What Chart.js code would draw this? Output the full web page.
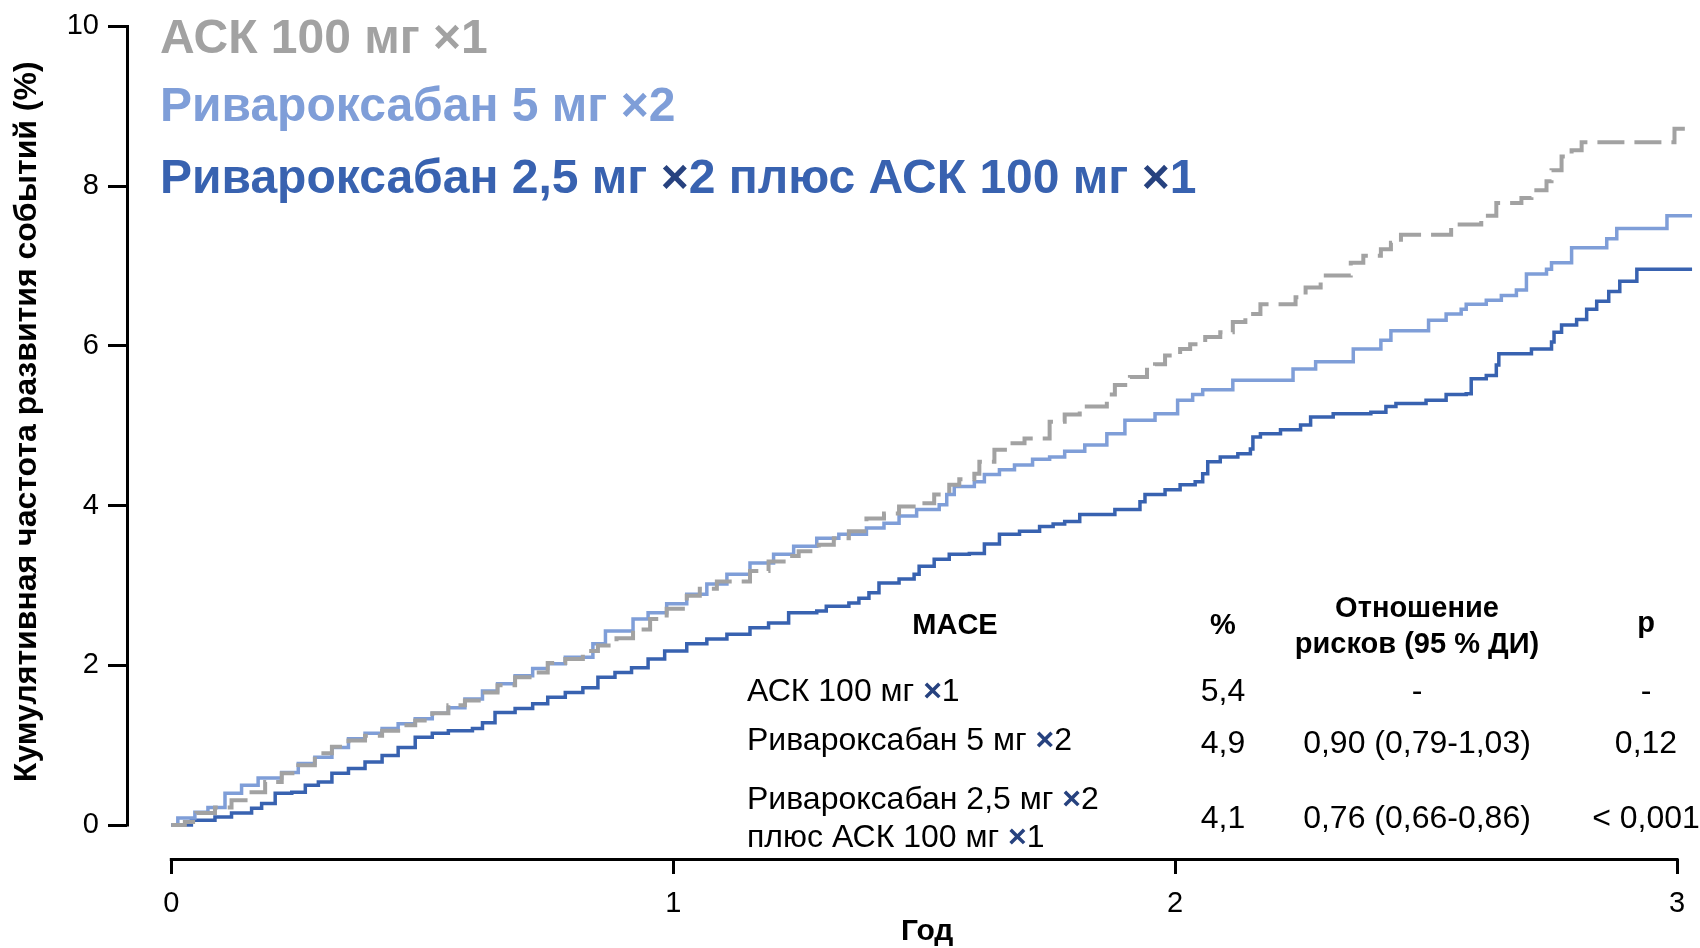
<!DOCTYPE html>
<html lang="ru">
<head>
<meta charset="utf-8">
<title>MACE — кумулятивная частота</title>
<script src="https://cdn.jsdelivr.net/npm/chart.js@4.4.1/dist/chart.umd.min.js"></script>
<style>
  html, body { margin: 0; padding: 0; background: #fff; }
  #wrap { position: relative; width: 1700px; height: 948px; }
</style>
</head>
<body>
<div id="wrap"><canvas id="chart" width="1700" height="948"></canvas></div>
<script>
// ---- data ----
const yearTicks = [0, 1, 2, 3];
const pctTicks = [0, 2, 4, 6, 8, 10];

const legendLabels = [
  'АСК 100 мг ×1',
  'Ривароксабан 5 мг ×2',
  'Ривароксабан 2,5 мг ×2 плюс АСК 100 мг ×1'
];

// [year, cumulative %] at each step of the Kaplan–Meier curve
const askCurve = [
  [0, 0], [0.027, 0.04], [0.05, 0.15], [0.087, 0.22], [0.12, 0.31], [0.153, 0.41],
  [0.187, 0.54], [0.22, 0.65], [0.253, 0.75], [0.286, 0.90], [0.32, 0.98], [0.353, 1.06],
  [0.386, 1.12], [0.42, 1.18], [0.452, 1.25], [0.486, 1.31], [0.52, 1.40], [0.552, 1.50],
  [0.585, 1.56], [0.62, 1.66], [0.65, 1.75], [0.685, 1.85], [0.72, 1.91], [0.75, 2.03],
  [0.785, 2.08], [0.82, 2.18], [0.85, 2.25], [0.887, 2.34], [0.92, 2.45], [0.954, 2.58],
  [0.987, 2.71], [1.027, 2.87], [1.053, 2.96], [1.087, 3.05], [1.153, 3.18], [1.19, 3.30],
  [1.22, 3.37], [1.25, 3.43], [1.29, 3.51], [1.32, 3.59], [1.35, 3.68], [1.385, 3.84],
  [1.42, 3.90], [1.45, 3.99], [1.485, 4.03], [1.52, 4.14], [1.55, 4.26], [1.57, 4.33],
  [1.60, 4.40], [1.61, 4.55], [1.64, 4.70], [1.67, 4.78], [1.70, 4.84], [1.75, 5.05],
  [1.78, 5.14], [1.81, 5.24], [1.864, 5.39], [1.88, 5.51], [1.91, 5.61], [1.944, 5.70],
  [1.96, 5.77], [1.98, 5.88], [2.01, 5.96], [2.03, 6.02], [2.06, 6.11], [2.09, 6.17],
  [2.115, 6.30], [2.14, 6.40], [2.17, 6.52], [2.24, 6.61], [2.26, 6.73], [2.29, 6.88],
  [2.35, 7.04], [2.375, 7.13], [2.41, 7.21], [2.43, 7.29], [2.45, 7.39], [2.55, 7.52],
  [2.61, 7.63], [2.64, 7.79], [2.69, 7.85], [2.71, 7.95], [2.74, 8.06], [2.75, 8.20],
  [2.77, 8.37], [2.79, 8.45], [2.81, 8.55], [2.995, 8.72], [3.03, 8.72]
];

const riva5Curve = [
  [0, 0], [0.013, 0.09], [0.047, 0.16], [0.073, 0.22], [0.107, 0.40], [0.14, 0.50],
  [0.173, 0.59], [0.22, 0.66], [0.253, 0.77], [0.286, 0.85], [0.32, 0.97], [0.353, 1.08],
  [0.386, 1.15], [0.42, 1.21], [0.452, 1.27], [0.486, 1.33], [0.52, 1.40], [0.552, 1.47],
  [0.585, 1.58], [0.62, 1.68], [0.65, 1.77], [0.685, 1.87], [0.72, 1.96], [0.75, 2.02],
  [0.785, 2.10], [0.84, 2.27], [0.865, 2.43], [0.92, 2.58], [0.95, 2.66], [0.987, 2.77],
  [1.027, 2.89], [1.067, 3.02], [1.107, 3.14], [1.153, 3.28], [1.20, 3.39], [1.24, 3.49],
  [1.286, 3.59], [1.33, 3.64], [1.385, 3.72], [1.42, 3.78], [1.45, 3.87], [1.485, 3.95],
  [1.53, 4.01], [1.545, 4.14], [1.56, 4.24], [1.60, 4.30], [1.62, 4.39], [1.65, 4.45],
  [1.68, 4.51], [1.716, 4.58], [1.75, 4.61], [1.78, 4.68], [1.82, 4.76], [1.864, 4.90],
  [1.90, 5.07], [1.96, 5.15], [2.005, 5.32], [2.035, 5.39], [2.055, 5.45], [2.115, 5.57],
  [2.235, 5.71], [2.28, 5.80], [2.355, 5.96], [2.41, 6.07], [2.43, 6.19], [2.505, 6.32],
  [2.54, 6.40], [2.57, 6.46], [2.58, 6.52], [2.62, 6.57], [2.65, 6.63], [2.68, 6.70],
  [2.70, 6.90], [2.74, 6.96], [2.75, 7.04], [2.79, 7.23], [2.86, 7.34], [2.88, 7.47],
  [2.98, 7.63], [3.03, 7.63]
];

const comboCurve = [
  [0, 0], [0.04, 0.06], [0.087, 0.10], [0.12, 0.15], [0.16, 0.21], [0.18, 0.27],
  [0.207, 0.40], [0.24, 0.41], [0.267, 0.50], [0.293, 0.54], [0.32, 0.65], [0.353, 0.71],
  [0.386, 0.79], [0.42, 0.87], [0.452, 0.97], [0.486, 1.10], [0.52, 1.15], [0.552, 1.18],
  [0.60, 1.21], [0.62, 1.28], [0.645, 1.41], [0.685, 1.46], [0.72, 1.52], [0.75, 1.60],
  [0.785, 1.66], [0.82, 1.72], [0.85, 1.85], [0.884, 1.91], [0.917, 1.97], [0.95, 2.08],
  [0.983, 2.18], [1.027, 2.27], [1.067, 2.33], [1.107, 2.39], [1.153, 2.47], [1.19, 2.53],
  [1.23, 2.66], [1.286, 2.68], [1.305, 2.74], [1.35, 2.78], [1.37, 2.84], [1.39, 2.91],
  [1.41, 3.03], [1.45, 3.08], [1.48, 3.14], [1.49, 3.24], [1.52, 3.33], [1.55, 3.39],
  [1.59, 3.40], [1.62, 3.52], [1.65, 3.64], [1.69, 3.68], [1.73, 3.74], [1.757, 3.77],
  [1.78, 3.80], [1.81, 3.89], [1.88, 3.95], [1.93, 4.05], [1.94, 4.14], [1.98, 4.20],
  [2.01, 4.26], [2.04, 4.30], [2.055, 4.40], [2.065, 4.55], [2.09, 4.61], [2.125, 4.65],
  [2.15, 4.71], [2.155, 4.86], [2.17, 4.90], [2.21, 4.95], [2.25, 5.01], [2.27, 5.11],
  [2.315, 5.15], [2.39, 5.17], [2.42, 5.24], [2.44, 5.28], [2.50, 5.32], [2.54, 5.39],
  [2.58, 5.40], [2.59, 5.59], [2.62, 5.63], [2.64, 5.76], [2.645, 5.90], [2.71, 5.96],
  [2.75, 6.05], [2.755, 6.17], [2.77, 6.26], [2.80, 6.33], [2.82, 6.46], [2.84, 6.56],
  [2.864, 6.68], [2.886, 6.81], [2.92, 6.96], [3.03, 6.96]
];

// summary table
const tableHeader = { name: 'MACE', pct: '%', hr: ['Отношение', 'рисков (95 % ДИ)'], p: 'p' };
const tableRowLabels = [
  ['АСК 100 мг ×1'],
  ['Ривароксабан 5 мг ×2'],
  ['Ривароксабан 2,5 мг ×2', 'плюс АСК 100 мг ×1']
];
const tablePct = ['5,4', '4,9', '4,1'];
const tableHR = ['-', '0,90 (0,79-1,03)', '0,76 (0,66-0,86)'];
const tableP = ['-', '0,12', '< 0,001'];

const yTitle = 'Кумулятивная частота развития событий (%)';
const xTitle = 'Год';

// ---- styles ----
const FONT = "'Liberation Sans', Arial, Helvetica, sans-serif";
const COL = {
  ask: '#a2a2a2',
  riva5: '#7f9ed8',
  combo: '#3862b0',
  cross: '#27427f',
  text: '#000000'
};

// plot frame (px): data origin sits inside the detached axes
const FRAME = { left: 127, right: 1677, top: 24, bottom: 859 };
const ORIGIN = { x: 171.3, y: 825 };
const xMax = yearTicks[yearTicks.length - 1];
const yMax = pctTicks[pctTicks.length - 1];
const xMin = -(ORIGIN.x - FRAME.left) * xMax / (FRAME.right - ORIGIN.x);
const yMin = -(FRAME.bottom - ORIGIN.y) * yMax / (ORIGIN.y - FRAME.top);

const toXY = (arr) => arr.map(([t, v]) => ({ x: t, y: v }));

// text with coloured (optionally bold) "×" signs
function drawRich(ctx, text, x, y, baseColor, crossColor, baseFont, crossFont) {
  const parts = text.split('×');
  let cx = x;
  ctx.textAlign = 'left';
  parts.forEach((part, i) => {
    if (i > 0) {
      ctx.font = crossFont;
      ctx.fillStyle = crossColor;
      ctx.fillText('×', cx, y);
      cx += ctx.measureText('×').width;
    }
    ctx.font = baseFont;
    ctx.fillStyle = baseColor;
    ctx.fillText(part, cx, y);
    cx += ctx.measureText(part).width;
  });
}

const decor = {
  id: 'decor',
  afterDraw(chart) {
    const { ctx, chartArea, scales: { x, y } } = chart;
    ctx.save();

    // detached axis lines
    ctx.strokeStyle = '#000';
    ctx.lineWidth = 3;
    ctx.beginPath();
    ctx.moveTo(x.getPixelForValue(yearTicks[0]) - 1.5, chartArea.bottom + 0.5);
    ctx.lineTo(x.getPixelForValue(xMax) + 1.5, chartArea.bottom + 0.5);
    ctx.moveTo(chartArea.left + 0.5, y.getPixelForValue(pctTicks[0]) + 1.5);
    ctx.lineTo(chartArea.left + 0.5, y.getPixelForValue(yMax) - 1.5);
    ctx.stroke();

    // axis titles
    ctx.fillStyle = COL.text;
    ctx.font = 'bold 30px ' + FONT;
    ctx.textAlign = 'center';
    ctx.textBaseline = 'middle';
    ctx.fillText(xTitle, (x.getPixelForValue(0) + x.getPixelForValue(xMax)) / 2 + 3, 932);
    ctx.save();
    ctx.font = 'bold 32px ' + FONT;
    ctx.translate(27, (y.getPixelForValue(0) + y.getPixelForValue(yMax)) / 2 - 4);
    ctx.rotate(-Math.PI / 2);
    ctx.fillText(yTitle, 0, 0);
    ctx.restore();

    // legend
    ctx.textBaseline = 'alphabetic';
    const legendFont = 'bold 48px ' + FONT;
    const legendColors = [
      [COL.ask, COL.ask],
      [COL.riva5, COL.riva5],
      [COL.combo, COL.cross]
    ];
    const legendBase = [53, 121, 193];
    legendLabels.forEach((lab, i) => {
      drawRich(ctx, lab, 160, legendBase[i], legendColors[i][0], legendColors[i][1], legendFont, legendFont);
    });

    // summary table
    const cName = 955, cPct = 1223, cHR = 1417, cP = 1646, cLabel = 747;
    ctx.textBaseline = 'middle';
    ctx.fillStyle = COL.text;
    ctx.font = 'bold 29px ' + FONT;
    ctx.textAlign = 'center';
    ctx.fillText(tableHeader.name, cName, 626);
    ctx.fillText(tableHeader.pct, cPct, 626);
    ctx.fillText(tableHeader.hr[0], cHR, 609);
    ctx.fillText(tableHeader.hr[1], cHR, 645);
    ctx.fillText(tableHeader.p, cP, 624);

    const rowFont = '32px ' + FONT;
    const crossFont = 'bold 32px ' + FONT;
    const rowLineY = [[692], [741], [800, 838]];
    const rowValY = [692, 744, 819];
    tableRowLabels.forEach((lines, i) => {
      lines.forEach((ln, j) => {
        drawRich(ctx, ln, cLabel, rowLineY[i][j], COL.text, COL.cross, rowFont, crossFont);
      });
      ctx.font = rowFont;
      ctx.fillStyle = COL.text;
      ctx.textAlign = 'center';
      ctx.fillText(tablePct[i], cPct, rowValY[i]);
      ctx.fillText(tableHR[i], cHR, rowValY[i]);
      ctx.fillText(tableP[i], cP, rowValY[i]);
    });

    ctx.restore();
  }
};

const lineBase = {
  stepped: true,
  pointRadius: 0,
  pointHoverRadius: 0,
  fill: false,
  borderJoinStyle: 'miter',
  borderCapStyle: 'butt',
  clip: false
};

new Chart(document.getElementById('chart'), {
  type: 'line',
  data: {
    datasets: [
      Object.assign({}, lineBase, {
        label: legendLabels[0], data: toXY(askCurve),
        borderColor: COL.ask, borderWidth: 4, borderDash: [27, 10]
      }),
      Object.assign({}, lineBase, {
        label: legendLabels[1], data: toXY(riva5Curve),
        borderColor: COL.riva5, borderWidth: 3.5
      }),
      Object.assign({}, lineBase, {
        label: legendLabels[2], data: toXY(comboCurve),
        borderColor: COL.combo, borderWidth: 3.5
      })
    ]
  },
  options: {
    responsive: false,
    animation: false,
    devicePixelRatio: 1,
    layout: { padding: { top: FRAME.top, right: 1700 - FRAME.right, left: 0, bottom: 0 } },
    plugins: { legend: { display: false }, tooltip: { enabled: false } },
    scales: {
      x: {
        type: 'linear',
        bounds: 'data',
        min: xMin,
        max: xMax,
        afterBuildTicks: (s) => { s.ticks = yearTicks.map(v => ({ value: v })); },
        afterFit: (s) => { s.height = 948 - FRAME.bottom; },
        grid: { display: true, drawOnChartArea: false, drawTicks: true, tickLength: 15, tickWidth: 3, tickColor: '#000' },
        border: { display: false },
        ticks: {
          autoSkip: false, maxRotation: 0, padding: 13,
          color: COL.text, font: { family: FONT, size: 29 },
          callback: (v) => String(v)
        },
        title: { display: false }
      },
      y: {
        type: 'linear',
        bounds: 'data',
        min: yMin,
        max: yMax,
        afterBuildTicks: (s) => { s.ticks = pctTicks.map(v => ({ value: v })); },
        afterFit: (s) => { s.width = FRAME.left; },
        grid: { display: true, drawOnChartArea: false, drawTicks: true, tickLength: 19, tickWidth: 3, tickColor: '#000' },
        border: { display: false },
        ticks: {
          padding: 9,
          color: COL.text, font: { family: FONT, size: 29 },
          callback: (v) => String(v)
        },
        title: { display: false }
      }
    }
  },
  plugins: [decor]
});
</script>
</body>
</html>
